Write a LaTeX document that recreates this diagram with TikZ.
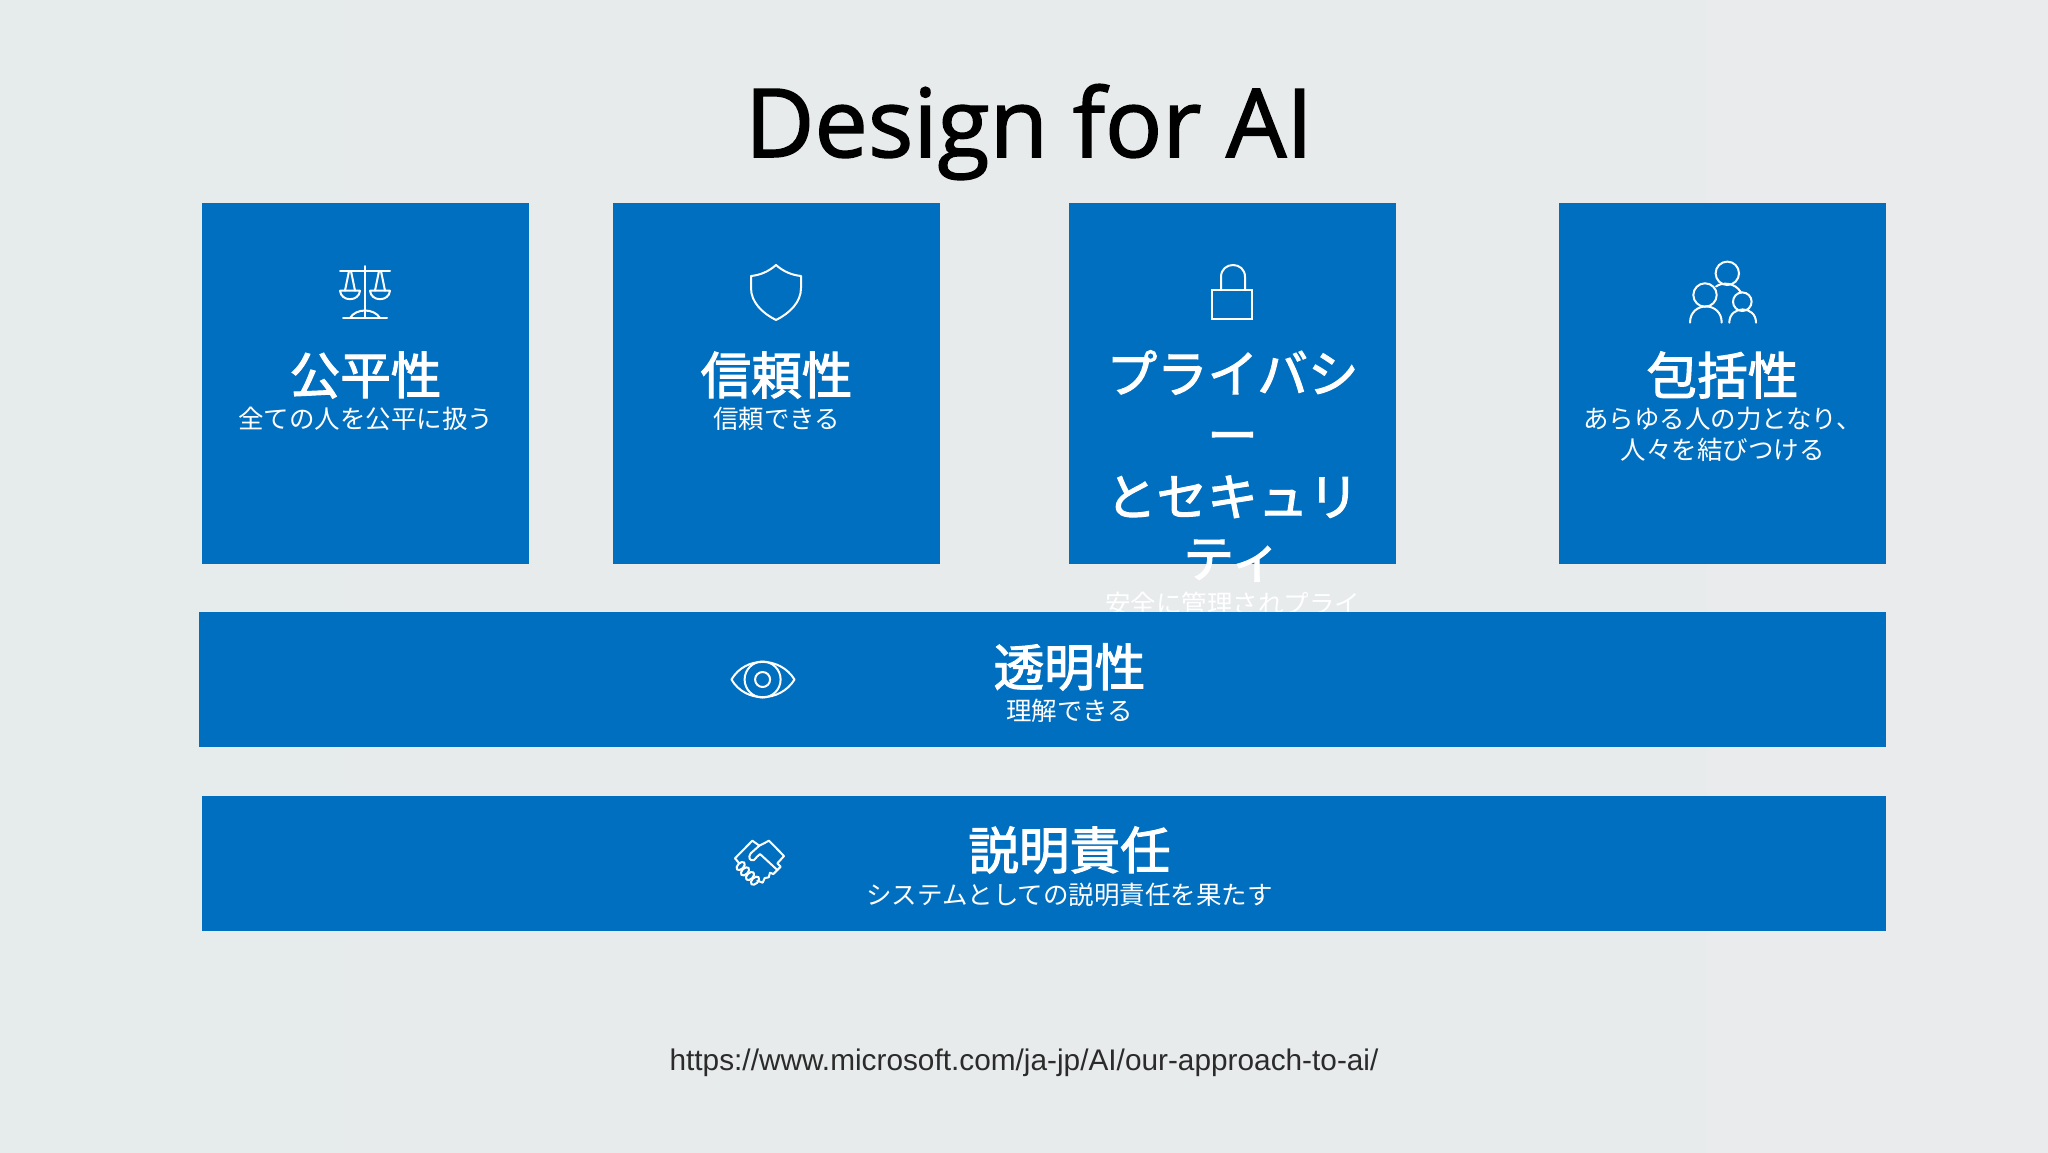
\documentclass[tikz,border=0pt]{standalone}
\usepackage{fontspec}
\setmainfont{Liberation Sans}
\newfontfamily\jpfont{Noto Sans CJK JP}
\newfontfamily\jphead[FakeBold=2.2]{Noto Sans CJK JP}
\newfontfamily\titlefont[FakeBold=1.6]{Open Sans}
\usetikzlibrary{calc}
\definecolor{msblue}{HTML}{006FC0}
\definecolor{bgleft}{HTML}{E6EBEB}
\definecolor{bgright}{HTML}{E9EBEC}
\definecolor{urlgray}{HTML}{2B2B2B}
\tikzset{
  panel/.style={fill=msblue,draw=none,inner sep=0pt,anchor=north west,minimum width=#1},
  hd/.style={text=white,inner sep=0pt,font=\jphead\fontsize{25.3}{30.8}\selectfont,align=center},
  sb/.style={text=white,inner sep=0pt,font=\jpfont\fontsize{12.75}{15.5}\selectfont,align=center},
  icon/.style={draw=white,line width=1pt,line join=round,line cap=round},
}
\begin{document}
\begin{tikzpicture}[x=0.5pt,y=-0.5pt]
\useasboundingbox (0,0) rectangle (2048,1152);
\shade[left color=bgleft,right color=bgright] (0,0) rectangle (2048,1152);

\node[inner sep=0pt,anchor=base,font=\titlefont\fontsize{47.6}{57}\selectfont,text=black] (title) at (1029,157) {Design for AI};

% top panels
\node[panel=163.5pt,minimum height=180.5pt] (p1) at (202,203) {};
\node[panel=163.5pt,minimum height=180.5pt] (p2) at (613,203) {};
\node[panel=163.5pt,minimum height=180.5pt] (p3) at (1069,203) {};
\node[panel=163.5pt,minimum height=180.5pt] (p4) at (1559,203) {};

\node[hd] (h1) at (365.5,375) {公平性};
\node[sb] (s1) at (365.5,419) {全ての人を公平に扱う};
\node[hd] (h2) at (776.5,375) {信頼性};
\node[sb] (s2) at (776.5,419) {信頼できる};
\node[hd,anchor=north] (h3) at (1232.5,350) {プライバシ\\ー\\とセキュリ\\ティ};
\node[sb] (s3) at (1232.5,604) {安全に管理されプライ};
\node[hd] (h4) at (1722.5,375) {包括性};
\node[sb] (s4) at (1722.5,434) {あらゆる人の力となり、\\人々を結びつける};

% bars
\node[panel=843.5pt,minimum height=67.5pt] (b1) at (199,612) {};
\node[panel=842pt,minimum height=67.5pt] (b2) at (202,796) {};
\node[hd] (h5) at (1069.5,667) {透明性};
\node[sb] (s5) at (1069.5,711) {理解できる};
\node[hd] (h6) at (1069.5,850) {説明責任};
\node[sb] (s6) at (1069.5,895) {システムとしての説明責任を果たす};

\node[inner sep=0pt,font=\fontsize{14.9}{18}\selectfont,text=urlgray] (url) at (1024,1062.5) {https://www.microsoft.com/ja-jp/AI/our-approach-to-ai/};

% scales
\draw[icon] (340,270.7) -- (390,270.7) (365,266) -- (365,318) (343,318) -- (387,318);
\draw[icon] (350,318) .. controls (356,308) and (374,308) .. (380,318);
\draw[icon] (340,290.7) -- (360,290.7) (340,290.7) .. controls (341,302) and (359,302) .. (360,290.7);
\draw[icon] (345,290.7) -- (349,271) -- (351,271) -- (355,290.7);
\draw[icon] (370,290.7) -- (390,290.7) (370,290.7) .. controls (371,302) and (389,302) .. (390,290.7);
\draw[icon] (375,290.7) -- (379,271) -- (381,271) -- (385,290.7);

% shield
\draw[icon] (776,265) .. controls (768,272) and (760,275) .. (751,276)
  -- (751,288) .. controls (751,302) and (762,313) .. (776,320)
  .. controls (790,313) and (801,302) .. (801,288) -- (801,276)
  .. controls (792,275) and (784,272) .. (776,265) -- cycle;

% lock
\draw[icon,line join=miter] (1212,290) rectangle (1252,319);
\draw[icon] (1221,290) -- (1221,277) .. controls (1221,261) and (1245,261) .. (1245,277) -- (1245,290);

% people
\draw[icon] (1727.3,273.3) circle[radius=11.7];
\draw[icon] (1705,295) circle[radius=11.7];
\draw[icon] (1742.3,301.7) circle[radius=9.3];
\draw[icon] (1690,322.7) .. controls (1690,301) and (1721.7,301) .. (1721.7,322.7);
\draw[icon] (1729.3,322.7) .. controls (1729.3,305) and (1756,305) .. (1756,322.7);
\draw[icon] (1716,286.5) .. controls (1722,282) and (1735,282) .. (1741,292.5);

% eye
\draw[icon] (731.5,679.5) .. controls (745,656) and (780,656) .. (794.5,679.5)
  .. controls (780,703) and (745,703) .. (731.5,679.5) -- cycle;
\draw[icon] (762.6,679.5) circle[radius=18];
\draw[icon] (762.6,679.5) circle[radius=7.5];

% handshake
\begin{scope}[shift={(720,830)},x=0.1667pt,y=-0.1667pt]
\draw[icon] (45,85) -- (97,32) -- (118,47) -- (147,32) -- (192,78) -- (172,100) -- (182,110)
  -- (160,132) -- (150,128) -- (146,142) -- (134,144) -- (128,158) -- (112,152);
\draw[icon] (118,47) -- (92,70) .. controls (84,82) and (88,94) .. (102,90)
  .. controls (110,84) and (114,74) .. (120,72) -- (172,120);
\draw[icon] (45,85) -- (58,100);
\foreach \cx/\cy in {62/108,75/124,90/138,105/152}
  \draw[icon,rotate around={45:(\cx,\cy)}] (\cx,\cy) ellipse[x radius=15,y radius=9];
\end{scope}
\end{tikzpicture}
\end{document}
